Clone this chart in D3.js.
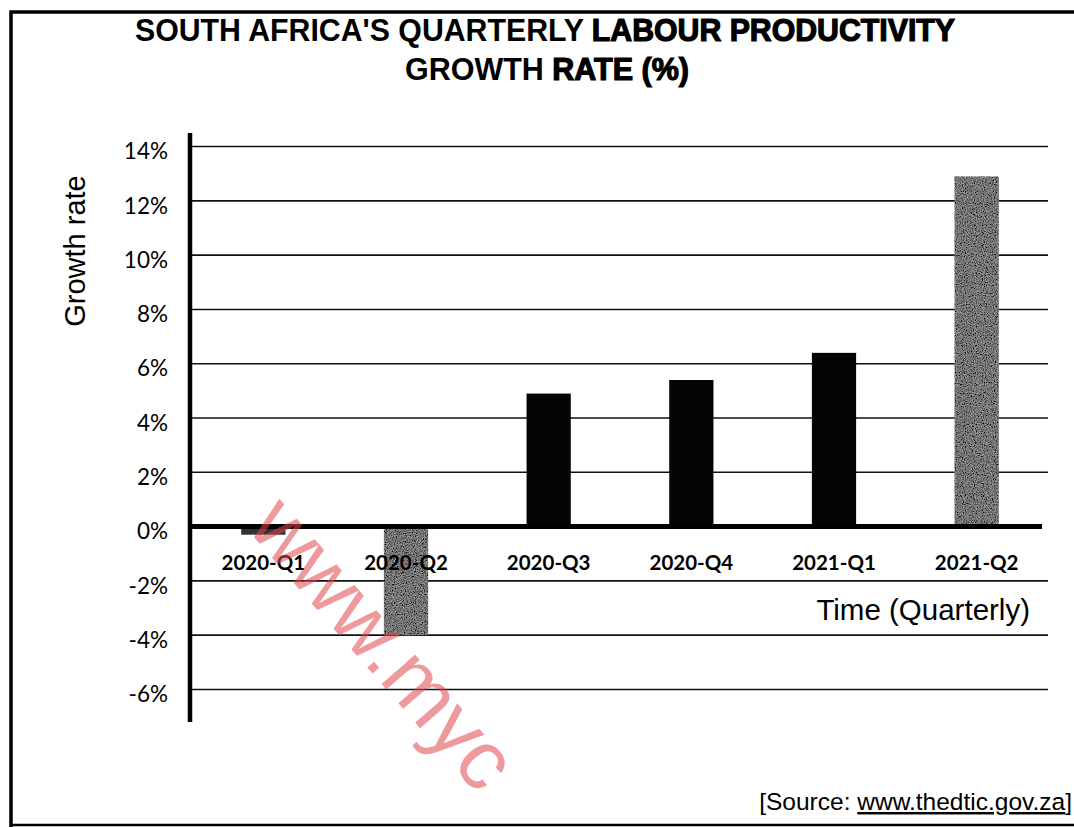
<!DOCTYPE html>
<html>
<head>
<meta charset="utf-8">
<script src="https://cdn.jsdelivr.net/npm/d3@7"></script>
<style>
  body { margin: 0; background: #fff; }
  svg { display: block; }
  .cat { font-family: Lato, "Open Sans", sans-serif; font-weight: 700; font-size: 20.5px; }
  .ytick { font-family: Lato, "Open Sans", sans-serif; font-size: 22.5px; }
  .arial { font-family: "Liberation Sans", Arial, sans-serif; }
</style>
</head>
<body>
<div id="chart"></div>
<script>
// data
const quarters = ['2020-Q1', '2020-Q2', '2020-Q3', '2020-Q4', '2021-Q1', '2021-Q2'];
const growth = [-0.3, -4.0, 4.9, 5.4, 6.4, 12.9];
const barShade = ['dark', 'grey', 'black', 'black', 'black', 'grey'];
const yTicks = [-6, -4, -2, 0, 2, 4, 6, 8, 10, 12, 14];

const width = 1074, height = 827;
let svg = d3.select('#chart').append('svg')
    .attr('width', width)
    .attr('height', height);

// grainy grey like the scan
let defs = svg.append('defs');
let f = defs.append('filter').attr('id', 'grain').attr('x', 0).attr('y', 0).attr('width', 1).attr('height', 1);
f.append('feTurbulence').attr('type', 'fractalNoise').attr('baseFrequency', 0.9).attr('numOctaves', 2).attr('seed', 3).attr('result', 'n');
f.append('feColorMatrix').attr('in', 'n').attr('type', 'matrix')
    .attr('values', '0 0 0 0 0  0 0 0 0 0  0 0 0 0 0  0 0 0 -2.2 1.55').attr('result', 'dots');
f.append('feComposite').attr('in', 'dots').attr('in2', 'SourceGraphic').attr('operator', 'in').attr('result', 'd2');
f.append('feMerge').call(m => {
    m.append('feMergeNode').attr('in', 'SourceGraphic');
    m.append('feMergeNode').attr('in', 'd2');
});

// outer frame
svg.append('path')
    .attr('d', `M11,${height} L11,12 L${width},12`)
    .attr('fill', 'none').attr('stroke', '#000').attr('stroke-width', 3.5);
svg.append('line')
    .attr('x1', 11).attr('x2', width).attr('y1', 825).attr('y2', 825)
    .attr('stroke', '#000').attr('stroke-width', 2.5);

// title
let title = svg.append('text').attr('class', 'arial')
    .attr('text-anchor', 'middle')
    .style('font-family', '"Liberation Sans Narrow", "Arial Narrow", "Liberation Sans", sans-serif')
    .style('font-weight', 700).style('font-size', '31px');
let t1 = title.append('tspan').attr('x', 545).attr('y', 41)
    .attr('textLength', 820).attr('lengthAdjust', 'spacingAndGlyphs');
t1.append('tspan').text("SOUTH AFRICA'S QUARTERLY ");
t1.append('tspan').attr('stroke', '#000').attr('stroke-width', 1.2).text('LABOUR PRODUCTIVITY');
let t2 = title.append('tspan').attr('x', 547).attr('y', 80)
    .attr('textLength', 284).attr('lengthAdjust', 'spacingAndGlyphs');
t2.append('tspan').text('GROWTH ');
t2.append('tspan').attr('stroke', '#000').attr('stroke-width', 1.2).text('RATE (%)');

// scales
let x = d3.scaleBand()
    .domain(quarters)
    .range([192, 1048])
    .paddingInner(0.69)
    .paddingOuter(0.345);
let y = d3.scaleLinear()
    .domain([-7.2, 14.5])
    .range([722, 133]);

// gridlines
svg.append('g')
    .selectAll('line')
    .data(yTicks.filter(d => d !== 0))
    .enter().append('line')
    .attr('x1', 190).attr('x2', 1048)
    .attr('y1', d => y(d)).attr('y2', d => y(d))
    .attr('stroke', '#111').attr('stroke-width', 1.6);

// y axis (labels only, line drawn thick)
let axis_y = d3.axisLeft(y)
    .tickValues(yTicks)
    .tickSize(0)
    .tickPadding(0)
    .tickFormat(d => d + '%');
let gy = svg.append('g')
    .attr('transform', 'translate(168,5)')
    .call(axis_y);
gy.select('.domain').remove();
gy.selectAll('text').attr('class', 'ytick').attr('fill', '#000');

svg.append('line')
    .attr('x1', 190).attr('x2', 190)
    .attr('y1', y(14.5)).attr('y2', y(-7.2))
    .attr('stroke', '#000').attr('stroke-width', 4.5);

// bars
svg.append('g')
    .selectAll('rect')
    .data(quarters)
    .enter().append('rect')
    .attr('x', d => x(d))
    .attr('width', x.bandwidth())
    .attr('y', (d, i) => y(Math.max(0, growth[i])))
    .attr('height', (d, i) => Math.abs(y(growth[i]) - y(0)))
    .attr('fill', (d, i) => barShade[i] === 'grey' ? '#9a9a9a' : (barShade[i] === 'dark' ? '#333' : '#050505'))
    .attr('filter', (d, i) => barShade[i] === 'grey' ? 'url(#grain)' : null);

// zero line
svg.append('line')
    .attr('x1', 190).attr('x2', 1042)
    .attr('y1', y(0)).attr('y2', y(0))
    .attr('stroke', '#000').attr('stroke-width', 5);

// category labels
let axis_x = d3.axisBottom(x).tickSize(0).tickPadding(0);
let gx = svg.append('g')
    .attr('transform', `translate(0, 555)`)
    .call(axis_x);
gx.select('.domain').remove();
gx.selectAll('text').attr('class', 'cat').attr('fill', '#000');

// axis titles
svg.append('text').attr('class', 'arial')
    .attr('transform', 'translate(85,251) rotate(-90)')
    .attr('text-anchor', 'middle')
    .style('font-size', '29px')
    .text('Growth rate');
svg.append('text').attr('class', 'arial')
    .attr('x', 1030).attr('y', 620)
    .attr('text-anchor', 'end')
    .style('font-size', '29.5px')
    .text('Time (Quarterly)');

// source
let src = svg.append('text').attr('class', 'arial')
    .attr('x', 1072).attr('y', 810)
    .attr('text-anchor', 'end')
    .style('font-size', '24.5px');
src.append('tspan').text('[Source: ');
src.append('tspan').attr('text-decoration', 'underline').text('www.thedtic.gov.za');
src.append('tspan').text(']');

// watermark
svg.append('text').attr('class', 'arial')
    .attr('transform', 'translate(246,528) rotate(49)')
    .style('font-size', '84px')
    .attr('fill', '#e0474c')
    .attr('fill-opacity', 0.55)
    .text('www.myc');
</script>
</body>
</html>
